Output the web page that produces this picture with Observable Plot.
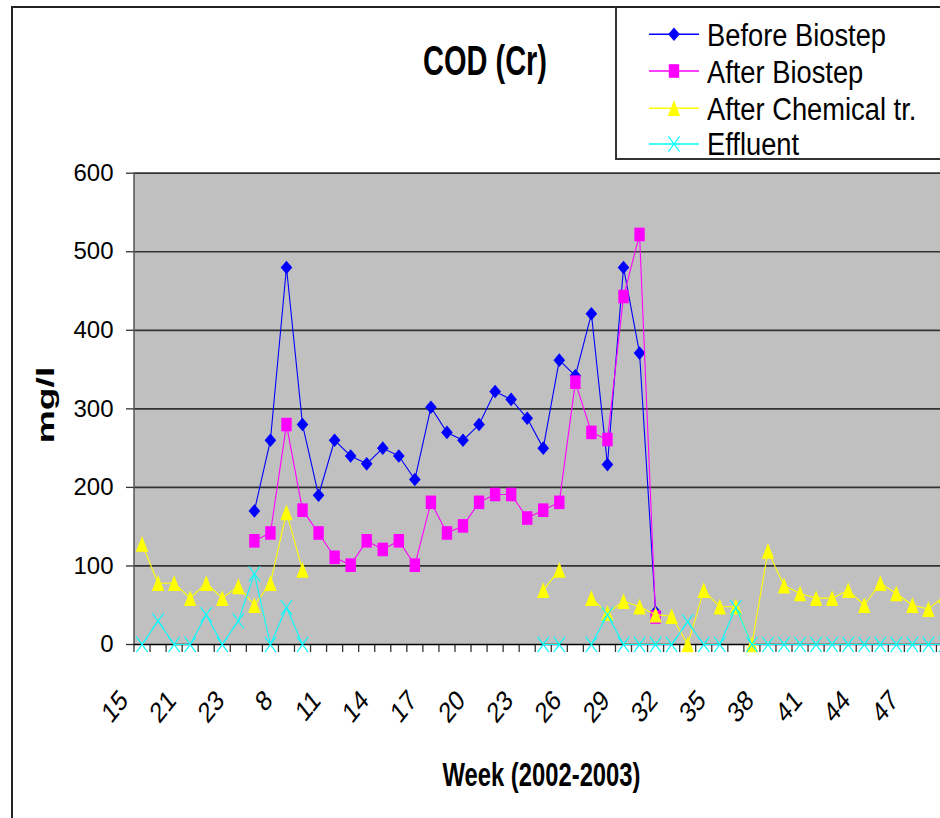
<!DOCTYPE html>
<html><head><meta charset="utf-8">
<script src="https://cdn.jsdelivr.net/npm/d3@7"></script>
<script src="https://cdn.jsdelivr.net/npm/@observablehq/plot@0.6"></script>
<style>
html,body{margin:0;padding:0;background:#fff;overflow:hidden;}
#wrap{position:relative;width:940px;height:818px;overflow:hidden;font-family:"Liberation Sans",Arial,sans-serif;background:#fff;}
#wrap svg.chart{position:absolute;left:0;top:0;}
.t{position:absolute;white-space:nowrap;transform-origin:0 0;color:#000;}
</style></head><body><div id="wrap"></div>
<script>
// ---- data ----
const weeks = ["15","17","19","21","22","22","23",
  "6","7","8","9","10","11","12","13","14","15","16","17","18","19","20","21","22","23","24","25","26","27","28","29",
  "30","31","32","33","34","35","36","37","38","39","40","41","42","43","44","45","46","47","48","49"];
const labelIdx = [0,3,6,9,12,15,18,21,24,27,30,33,36,39,42,45,48];
const yTicks = [0,100,200,300,400,500,600];

const beforeBio = [null,null,null,null,null,null,null,
  170,260,480,280,190,260,240,230,250,240,210,302,270,260,280,322,312,288,250,362,342,421,229,480,371,41,
  null,null,null,null,null,null,null,null,null,null,null,null,null,null,null,null,null,null];
const afterBio = [null,null,null,null,null,null,null,
  132,142,280,171,142,111,101,132,121,132,101,181,142,151,181,191,191,161,171,181,334,270,261,443,522,35,
  null,null,null,null,null,null,null,null,null,null,null,null,null,null,null,null,null,null];
const afterChem = [128,78,78,59,78,59,74,50,78,168,95,
  null,null,null,null,null,null,null,null,null,null,null,null,null,null,
  69,95,null,59,40,55,48,38,36,0,69,48,48,0,119,75,65,59,59,69,50,78,65,50,45,62];
const effluent = [0,30,0,0,38,0,30,90,0,47,0,
  null,null,null,null,null,null,null,null,null,null,null,null,null,null,
  0,0,null,0,38,0,0,0,0,29,0,0,47,0,0,0,0,0,0,0,0,0,0,0,0,0];

const seriesNames = ["Before Biostep","After Biostep","After Chemical tr.","Effluent"];
const seriesColors = ["#0000ff","#ff00ff","#ffff00","#00ffff"];

// ---- marker shapes (Excel-like) ----
const diamondSym = {draw(c){c.moveTo(0,-6.8);c.lineTo(5.8,0);c.lineTo(0,6.8);c.lineTo(-5.8,0);c.closePath();}};
const squareSym = {draw(c){c.moveTo(-5.2,-6.8);c.lineTo(5.2,-6.8);c.lineTo(5.2,6.8);c.lineTo(-5.2,6.8);c.closePath();}};
const triSym = {draw(c){c.moveTo(0,-8);c.lineTo(6.2,7.8);c.lineTo(-6.2,7.8);c.closePath();}};
const crossSym = {draw(c){c.moveTo(-5.6,-7.6);c.lineTo(5.6,7.6);c.moveTo(5.6,-7.6);c.lineTo(-5.6,7.6);}};
const symbols = [diamondSym, squareSym, triSym, crossSym];
const allValues = [beforeBio, afterBio, afterChem, effluent];

const bounds = d3.range(weeks.length + 1).map(i => i - 0.5);

const marks = [
  Plot.frame({fill:"#c0c0c0", stroke:"none"}),
  Plot.gridY(yTicks.filter(d => d > 0), {stroke:"#333", strokeOpacity:1, strokeWidth:1.7}),
  Plot.ruleX([-0.5], {stroke:"#555", strokeWidth:1.5}),
  Plot.axisY(yTicks, {tickSize:7.5, tickPadding:13, fontSize:24, stroke:"#333", strokeWidth:1.3, label:null, tickFormat:d => String(d)}),
  Plot.axisX(bounds, {tickSize:8, stroke:"#333", strokeWidth:1.3, label:null, tickFormat:() => ""}),
  Plot.text(labelIdx, {x:d => d, frameAnchor:"bottom", text:d => weeks[d], rotate:-45,
    textAnchor:"end", lineAnchor:"middle", dx:-18, dy:51, fontSize:23, fill:"#000"}),
  Plot.ruleY([0], {stroke:"#000", strokeWidth:1.6})
];
allValues.forEach((vals, k) => {
  const rows = weeks.map((w, i) => ({i, week:w, v: vals[i] == null ? NaN : vals[i]}));
  marks.push(Plot.line(rows, {x:"i", y:"v", stroke:seriesColors[k], strokeWidth:1.1}));
  if (k === 3) {
    marks.push(Plot.dot(rows, {x:"i", y:"v", symbol:symbols[k], r:5, fill:"none", stroke:seriesColors[k], strokeWidth:1.1}));
  } else {
    marks.push(Plot.dot(rows, {x:"i", y:"v", symbol:symbols[k], r:5, fill:seriesColors[k], stroke:"none"}));
  }
});

const chart = Plot.plot({
  width:960, height:818,
  marginLeft:133.5, marginRight:8, marginTop:172.7, marginBottom:174,
  x:{type:"linear", domain:[-0.5, weeks.length - 0.5], label:null},
  y:{domain:[0,600], label:null},
  style:{fontFamily:"Liberation Sans, Arial, sans-serif", fontSize:"24px", background:"transparent", maxWidth:"none", overflow:"visible", color:"#000"},
  marks
});
chart.classList.add("chart");
// stretch the rotated week labels vertically (screen space), as in the reference
chart.querySelectorAll("text").forEach(t => {
  const tr = t.getAttribute("transform");
  if (tr && tr.includes("rotate(-45)")) t.setAttribute("transform", tr.replace("rotate(-45)", "scale(1,1.25) rotate(-45)"));
});
const wrap = document.getElementById("wrap");
wrap.appendChild(chart);

// ---- chart-area border ----
const border = document.createElement("div");
Object.assign(border.style, {position:"absolute", left:"11px", top:"5.5px", width:"1100px", height:"1000px",
  borderLeft:"2px solid #222", borderTop:"2px solid #222", pointerEvents:"none"});
wrap.appendChild(border);

// ---- text helper: Liberation Sans with stretch to match reference ----
function addText(str, {x, capTop, fs, bold=false, sx=1, sy=1, center=false}) {
  const d = document.createElement("div");
  d.className = "t";
  d.textContent = str;
  const top = capTop - 0.1305 * fs * sy;
  Object.assign(d.style, {left:x+"px", top:top+"px", fontSize:fs+"px", lineHeight:fs+"px",
    fontWeight: bold ? "bold" : "normal",
    transform: `scale(${sx},${sy})` + (center ? " translateX(-50%)" : "")});
  wrap.appendChild(d);
  return d;
}

// title
addText("COD (Cr)", {x:485, capTop:45.5, fs:29, bold:true, sy:1.45, center:true});
// x-axis title
addText("Week (2002-2003)", {x:541.5, capTop:762.7, fs:23.8, bold:true, sy:1.4, center:true});
// y-axis title (rotated)
const yt = document.createElement("div");
yt.className = "t";
yt.textContent = "mg/l";
Object.assign(yt.style, {left:"46px", top:"405px", fontSize:"24px", lineHeight:"24px", fontWeight:"bold",
  transform:"rotate(-90deg) scale(1.55,1) translate(-50%,-50%)"});
wrap.appendChild(yt);

// ---- legend ----
const lg = document.createElement("div");
Object.assign(lg.style, {position:"absolute", left:"615px", top:"5.5px", width:"600px", height:"150px",
  borderLeft:"2px solid #333", borderTop:"2px solid #222", borderBottom:"2px solid #333", background:"#fff"});
wrap.appendChild(lg);

const rowY = [34.3, 71, 108.3, 144];
const capTops = [23.3, 60, 96.7, 131.7];
const ns = "http://www.w3.org/2000/svg";
const lsvg = document.createElementNS(ns, "svg");
lsvg.setAttribute("width", 70); lsvg.setAttribute("height", 150);
Object.assign(lsvg.style, {position:"absolute", left:"640px", top:"10px", overflow:"visible"});
seriesNames.forEach((name, k) => {
  const cy = rowY[k] - 10;
  const ln = document.createElementNS(ns, "line");
  ln.setAttribute("x1", 9); ln.setAttribute("x2", 59); ln.setAttribute("y1", cy); ln.setAttribute("y2", cy);
  ln.setAttribute("stroke", seriesColors[k]); ln.setAttribute("stroke-width", 1.5);
  lsvg.appendChild(ln);
  const p = d3.path();
  symbols[k].draw(p, 0);
  const path = document.createElementNS(ns, "path");
  path.setAttribute("d", p.toString());
  path.setAttribute("transform", `translate(34,${cy})`);
  if (k === 3) { path.setAttribute("fill", "none"); path.setAttribute("stroke", seriesColors[k]); path.setAttribute("stroke-width", 1.1); }
  else path.setAttribute("fill", seriesColors[k]);
  lsvg.appendChild(path);
  addText(name, {x:707, capTop:capTops[k], fs:27.3, sy:1.16});
});
wrap.appendChild(lsvg);
</script></body></html>
